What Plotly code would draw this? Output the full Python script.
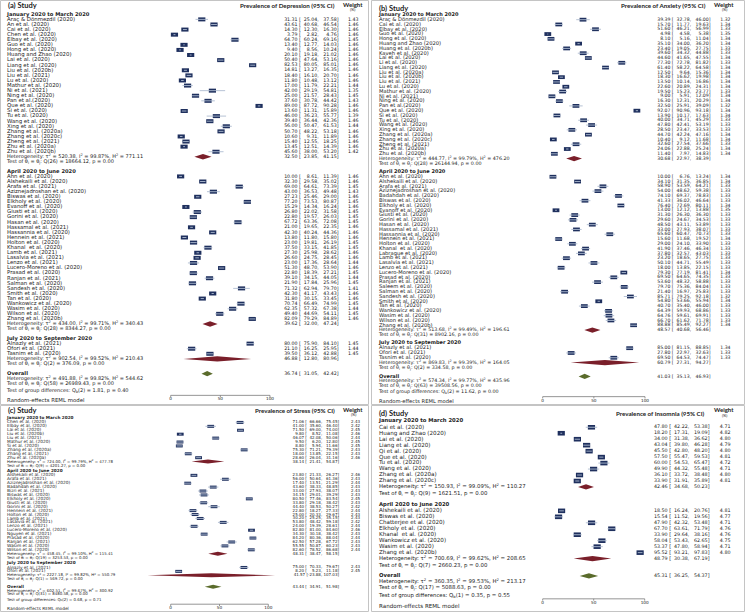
import plotly.graph_objects as go

W, H = 745, 612
FSP = "\u2007"  # figure space (digit width) for column alignment

periods = ["January 2020 to March 2020", "April 2020 to June 2020", "July 2020 to September 2020"]
axis_ticks = [0, 50, 100]

# ---------------- (a) Depression ----------------
dep1_names = ["Araç & Dönmezdil (2020)", "An et al. (2020)", "Cai et al. (2020)", "Chen et al. (2020)",
              "Elbay et al. (2020)", "Guo et al. (2020)", "Hong et al. (2020)", "Huang and Zhao (2020)",
              "Lai et al. (2020)", "Liang et al. (2020)", "Liu et al. (2020b)", "Liu et al. (2021)",
              "Lu et al. (2020)", "Mathur et al. (2020)", "Ni et al. (2021)", "Ning et al. (2020)",
              "Pan et al.(2020)", "Que et al. (2020)", "Si et al. (2020)", "Tu et al. (2020)",
              "Wang et al. (2020)", "Xing et al. (2020)", "Zhang et al. (2020a)", "Zhang et al. (2020c)",
              "Zheng et al. (2021)", "Zhu et al. (2020a)", "Zhu et al. (2020b)"]
dep1_est = [31.31, 43.61, 14.30, 3.79, 64.70, 13.40, 9.40, 20.10, 50.40, 82.53, 14.81, 18.40, 11.80, 17.00,
            42.00, 25.00, 37.60, 89.00, 13.60, 46.00, 39.40, 56.00, 50.70, 10.60, 15.40, 13.45, 45.60]
dep1_lo = [25.04, 40.68, 12.30, 2.82, 60.24, 12.77, 8.56, 19.18, 47.64, 80.05, 13.27, 16.10, 10.48, 11.79,
           29.19, 21.57, 30.78, 87.72, 11.31, 36.23, 36.44, 50.47, 48.22, 9.31, 12.55, 12.51, 38.00]
dep1_hi = [37.58, 46.54, 16.30, 4.76, 69.16, 14.03, 10.24, 21.02, 53.16, 85.01, 16.35, 20.70, 13.12, 22.21,
           54.81, 28.43, 44.42, 90.28, 15.89, 55.77, 42.36, 61.53, 53.18, 11.89, 18.25, 14.39, 53.20]
dep1_w = [1.43, 1.46, 1.46, 1.46, 1.45, 1.46, 1.46, 1.46, 1.46, 1.46, 1.46, 1.46, 1.46, 1.44,
          1.35, 1.45, 1.43, 1.46, 1.46, 1.39, 1.46, 1.44, 1.46, 1.46, 1.46, 1.46, 1.42]

dep2_names = ["Ahn et al. (2020)", "Alshekaili et al. (2020)", "Arafa et al. (2021)", "Aziznejadroshan et al. (2020)",
              "Biswas et al. (2020)", "Elkholy et al. (2020)", "Evanoff et al. (2020)", "Giusti et al. (2020)",
              "Gorini et al. (2020)", "Hasan et al. (2020)", "Hassamal et al. (2021)", "Hassannia et al. (2020)",
              "Hennein et al. (2021)", "Holton et al. (2020)", "Khanal  et al. (2020)", "Lamb et al. (2021)",
              "Lasalvia et al. (2021)", "Lenzo et al. (2021)", "Lucero-Moreno et al. (2020)", "Prasad et al. (2020)",
              "Ranjan et al. (2021)", "Salman et al. (2020)", "Sandesh et al. (2020)", "Smith et al. (2020)",
              "Tan et al. (2020)", "Wankowicz et al. (2020)", "Wasim et al. (2020)", "Wilson et al. (2020)",
              "Zhang et al. (2020b)"]
dep2_est = [10.00, 32.30, 69.00, 43.00, 27.23, 77.20, 15.29, 26.80, 22.80, 67.72, 21.00, 42.30, 13.80, 23.00,
            37.50, 27.30, 26.60, 23.00, 51.30, 22.80, 39.10, 21.90, 71.32, 42.30, 31.80, 70.74, 62.35, 49.40, 82.09]
dep2_lo = [8.61, 29.58, 64.61, 36.53, 25.46, 73.53, 14.34, 22.02, 19.57, 63.36, 19.65, 40.24, 11.80, 19.81,
           33.15, 25.98, 24.75, 17.36, 48.70, 18.39, 34.15, 17.84, 62.94, 41.17, 30.15, 66.49, 57.32, 44.69, 79.29]
dep2_hi = [11.39, 35.02, 73.39, 49.48, 29.00, 80.87, 16.24, 31.58, 26.03, 72.08, 22.35, 44.36, 15.80, 26.19,
           41.85, 28.62, 28.45, 28.64, 53.90, 27.21, 44.05, 25.96, 79.70, 43.43, 33.45, 74.99, 67.38, 54.11, 84.89]
dep2_w = [1.46, 1.46, 1.45, 1.43, 1.46, 1.45, 1.46, 1.45, 1.45, 1.45, 1.46, 1.46, 1.46, 1.45,
          1.45, 1.46, 1.46, 1.44, 1.46, 1.45, 1.44, 1.45, 1.41, 1.46, 1.46, 1.45, 1.44, 1.45, 1.46]

dep3_names = ["Alnazly et al. (2021)", "Ofori et al. (2021)", "Tasnim et al. (2020)"]
dep3_est = [80.00, 21.10, 39.50]
dep3_lo = [75.90, 16.25, 36.12]
dep3_hi = [84.10, 25.95, 42.88]
dep3_w = [1.45, 1.44, 1.45]

dep_sub_est = [32.50, 39.62, 46.88]
dep_sub_lo = [23.85, 32.00, 12.80]
dep_sub_hi = [41.15, 47.24, 80.96]
dep_sub_tau2 = [520.38, 434.00, 902.54]
dep_sub_i2 = [99.87, 99.71, 99.52]
dep_sub_h2 = [771.11, 340.43, 210.43]
dep_sub_df = [26, 28, 2]
dep_sub_q = [18664.12, 8344.27, 376.09]
dep_sub_p = [0.00, 0.00, 0.00]
dep_overall = [36.74, 31.05, 42.42]
dep_overall_het = [491.88, 99.82, 544.62]
dep_overall_q = [58, 26989.43, 0.00]
dep_groupdiff = [2, 1.81, 0.40]

# ---------------- (b) Anxiety ----------------
anx1_names = ["Araç & Dönmezdil (2020)", "Cai et al. (2020)", "Elbay et al. (2020)", "Guo et al. (2020)",
              "Hong et al. (2020)", "Huang and Zhao (2020)", "Huang et al. (2020b)", "Kaveh et al. (2020)",
              "Lai et al. (2020)", "Li et al. (2020)", "Liang et al. (2020)", "Liu et al. (2020a)",
              "Liu et al. (2020b)", "Liu et al. (2021)", "Lu et al. (2020)", "Mathur et al. (2020)",
              "Ni et al. (2021)", "Ning et al. (2020)", "Pan et al.(2020)", "Que et al. (2020)",
              "Si et al. (2020)", "Tu et al. (2020)", "Wang et al. (2020)", "Xing et al. (2020)",
              "Zhang et al. (2020a)", "Zhang et al. (2020c)", "Zheng et al. (2021)", "Zhu et al. (2020a)",
              "Zhu et al. (2020b)"]
anx1_est = [39.39, 15.70, 51.60, 4.98, 8.10, 35.10, 23.40, 39.60, 44.60, 77.30, 61.40, 12.50, 18.30, 13.50,
            22.60, 19.50, 9.00, 16.30, 32.50, 92.07, 13.90, 40.00, 47.80, 28.50, 44.70, 10.40, 32.60, 24.06, 11.40]
anx1_lo = [32.78, 11.77, 46.21, 4.58, 5.16, 34.00, 19.05, 34.32, 41.65, 72.78, 58.22, 9.64, 16.62, 10.14,
           20.89, 15.23, 5.91, 12.31, 25.91, 90.96, 10.17, 34.71, 42.41, 23.47, 42.24, 9.12, 27.54, 22.88, 7.97]
anx1_hi = [46.00, 19.63, 56.99, 5.38, 11.04, 36.20, 27.75, 44.88, 47.55, 81.82, 64.58, 15.36, 19.98, 16.86,
           24.31, 23.77, 12.09, 20.29, 39.09, 93.18, 17.63, 45.29, 53.19, 33.53, 47.16, 11.68, 37.66, 25.24, 14.83]
anx1_w = [1.32, 1.34, 1.33, 1.35, 1.34, 1.34, 1.33, 1.33, 1.34, 1.33, 1.34, 1.34, 1.34, 1.34,
          1.34, 1.33, 1.34, 1.34, 1.32, 1.34, 1.34, 1.33, 1.33, 1.33, 1.34, 1.34, 1.33, 1.34, 1.34]

anx2_names = ["Ahn et al. (2020)", "Alshekaili et al. (2020)", "Arafa et al. (2021)", "Aziznejadroshan et al. (2020)",
              "Badahdah et al. (2020)", "Biswas et al. (2020)", "Elkholy et al. (2020)", "Evanoff et al. (2020)",
              "Giusti et al. (2020)", "Gorini et al. (2020)", "Hasan et al. (2020)", "Hassamal et al. (2021)",
              "Hassannia et al. (2020)", "Hennein et al. (2021)", "Holton et al. (2020)", "Khanal  et al. (2020)",
              "Labrague et al. (2020)", "Lamb et al. (2021)", "Lasalvia et al. (2021)", "Lenzo et al. (2021)",
              "Lucero-Moreno et al. (2020)", "Prasad et al. (2020)", "Ranjan et al. (2021)", "Saleem et al. (2020)",
              "Salman et al. (2020)", "Sandesh et al. (2020)", "Smith et al. (2020)", "Tan et al. (2020)",
              "Wankowicz et al. (2020)", "Wasim et al. (2020)", "Wilson et al. (2020)", "Zhang et al. (2020b)"]
anx2_est = [10.00, 34.10, 58.90, 54.00, 74.10, 41.33, 76.40, 13.00, 31.30, 29.60, 48.50, 33.00, 65.60, 15.60,
            29.00, 41.90, 37.80, 23.20, 50.10, 18.00, 79.30, 69.50, 53.60, 79.70, 21.40, 85.71, 54.80, 40.70,
            64.39, 64.76, 66.70, 88.88]
anx2_lo = [6.76, 31.35, 53.59, 48.62, 69.37, 36.02, 72.69, 12.12, 26.30, 24.67, 43.11, 27.93, 60.47, 11.68,
           24.10, 37.46, 32.57, 18.65, 44.71, 13.85, 77.19, 64.65, 48.32, 75.36, 16.97, 79.25, 53.66, 35.40,
           59.93, 59.61, 61.62, 85.49]
anx2_hi = [13.24, 36.85, 64.21, 59.38, 78.83, 46.64, 80.11, 13.88, 36.30, 34.53, 53.89, 38.07, 70.73, 19.52,
           33.90, 46.34, 43.03, 27.75, 55.49, 22.15, 81.41, 74.35, 58.88, 84.04, 25.83, 92.18, 55.94, 46.00,
           68.86, 69.91, 71.78, 92.27]
anx2_w = [1.34, 1.34, 1.33, 1.33, 1.33, 1.33, 1.34, 1.35, 1.33, 1.33, 1.33, 1.33, 1.33, 1.34, 1.33, 1.33,
          1.33, 1.33, 1.33, 1.33, 1.34, 1.33, 1.33, 1.33, 1.33, 1.32, 1.34, 1.33, 1.33, 1.33, 1.33, 1.34]

anx3_names = ["Alnazly et al. (2021)", "Ofori et al. (2021)", "Tasnim et al. (2020)"]
anx3_est = [85.00, 27.80, 69.50]
anx3_lo = [81.15, 22.97, 64.53]
anx3_hi = [88.85, 32.63, 74.47]
anx3_w = [1.34, 1.33, 1.33]

anx_sub_est = [30.68, 48.57, 60.79]
anx_sub_lo = [22.97, 40.68, 27.31]
anx_sub_hi = [38.39, 56.46, 94.27]
anx_sub_tau2 = [444.77, 513.68, 869.83]
anx_sub_i2 = [99.79, 99.49, 99.39]
anx_sub_h2 = [476.20, 196.61, 164.05]
anx_sub_df = [28, 31, 2]
anx_sub_q = [26144.94, 8902.16, 334.58]
anx_sub_p = [0.00, 0.00, 0.00]
anx_overall = [41.03, 35.13, 46.93]
anx_overall_het = [574.34, 99.77, 435.96]
anx_overall_q = [63, 39508.56, 0.00]
anx_groupdiff = [2, 11.62, 0.00]

# ---------------- (c) Stress ----------------
str1_names = ["Chen et al. (2020)", "Elbay et al. (2020)", "Lai et al. (2020)", "Liu et al. (2020b)",
              "Liu et al. (2021)", "Mathur et al. (2020)", "Si et al. (2020)", "Zhang et al. (2020a)",
              "Zhang et al. (2021)", "Zhu et al. (2020a)"]
str1_est = [71.06, 41.00, 71.50, 9.80, 46.07, 9.50, 8.80, 75.30, 18.00, 28.60]
str1_lo = [66.66, 35.60, 69.00, 8.52, 42.08, 6.20, 5.94, 71.21, 13.85, 26.04]
str1_hi = [75.45, 46.40, 74.00, 11.08, 50.06, 12.80, 11.66, 79.39, 22.15, 31.16]
str1_w = [2.43, 2.42, 2.45, 2.46, 2.44, 2.45, 2.45, 2.43, 2.43, 2.46]

str2_names = ["Alshekaili et al. (2020)", "Arafa et al. (2021)", "Aziznejadroshan et al. (2020)",
              "Badahdah et al. (2020)", "Bizri et al. (2021)", "Biswas et al. (2020)", "Elkholy et al. (2020)",
              "Giusti et al. (2020)", "Gorini et al. (2020)", "Hennein et al. (2021)", "Holton et al. (2020)",
              "Lamb et al. (2021)", "Lasalvia et al. (2021)", "Lenzo et al. (2021)", "Lucero-Moreno et al. (2020)",
              "Nguyen et al. (2021)", "Prasad et al. (2020)", "Ranjan et al. (2021)", "Wasim et al. (2020)",
              "Wilson et al. (2020)"]
str2_est = [23.80, 56.00, 17.40, 43.60, 33.00, 34.15, 80.50, 33.80, 44.40, 22.80, 25.00, 30.20, 53.80, 24.00,
            82.80, 34.30, 84.20, 62.50, 55.55, 82.60]
str2_lo = [21.33, 50.64, 13.51, 38.33, 27.93, 29.01, 77.46, 29.18, 38.53, 18.27, 20.33, 25.25, 48.42, 19.39,
           81.00, 30.18, 80.36, 57.28, 50.87, 78.52]
str2_hi = [26.27, 61.36, 21.29, 48.85, 38.07, 39.29, 83.54, 38.42, 50.27, 27.33, 29.67, 35.15, 59.18, 28.61,
           84.60, 38.42, 88.04, 67.72, 60.23, 86.68]
str2_w = [2.46, 2.43, 2.44, 2.43, 2.43, 2.43, 2.45, 2.43, 2.42, 2.44, 2.43, 2.43, 2.42, 2.44, 2.46, 2.43,
          2.44, 2.43, 2.43, 2.44]

str3_names = ["Alnazly et al. (2021)", "Ofori et al. (2021)"]
str3_est = [75.00, 8.20]
str3_lo = [70.33, 5.23]
str3_hi = [79.67, 11.18]
str3_w = [2.43, 2.45]

str_sub_est = [38.14, 48.31, 41.57]
str_sub_lo = [21.41, 38.47, -23.88]
str_sub_hi = [54.87, 58.15, 107.03]
str_sub_tau2 = [724.00, 458.45, 2227.18]
str_sub_i2 = [99.79, 99.10, 99.82]
str_sub_h2 = [477.78, 115.41, 550.79]
str_sub_df = [9, 19, 1]
str_sub_q = [4201.27, 3253.53, 569.72]
str_sub_p = [0.00, 0.00, 0.00]
str_overall = [43.44, 34.91, 51.98]
str_overall_het = [602.51, 99.67, 300.92]
str_overall_q = [31, 8480.58, 0.00]
str_groupdiff = [2, 0.68, 0.71]

# ---------------- (d) Insomnia ----------------
ins1_names = ["Cai et al. (2020)", "Huang and Zhao (2020)", "Lai et al. (2020)", "Liang et al. (2020)",
              "Qi et al. (2020)", "Que et al. (2020)", "Tu et al. (2020)", "Wang et al. (2020)",
              "Zhang et al. (2020a)", "Zhang et al. (2020c)"]
ins1_est = [47.80, 18.20, 34.00, 43.04, 45.50, 57.50, 60.00, 49.90, 36.10, 33.90]
ins1_lo = [42.22, 17.31, 31.38, 39.80, 42.80, 55.47, 54.53, 44.32, 33.72, 31.91]
ins1_hi = [53.38, 19.09, 36.62, 46.28, 48.20, 59.53, 65.47, 55.48, 38.48, 35.89]
ins1_w = [4.71, 4.82, 4.80, 4.79, 4.80, 4.81, 4.72, 4.71, 4.80, 4.81]

ins2_names = ["Alshekaili et al. (2020)", "Biswas et al. (2020)", "Chatterjee et al. (2020)", "Elkholy et al. (2020)",
              "Khanal  et al. (2020)", "Wankowicz et al. (2020)", "Wasim et al. (2020)", "Zhang et al. (2020b)"]
ins2_est = [18.50, 15.54, 47.90, 67.70, 33.90, 58.04, 53.37, 95.52]
ins2_lo = [16.24, 11.52, 42.32, 63.61, 29.64, 53.43, 47.80, 93.21]
ins2_hi = [20.76, 19.56, 53.48, 71.79, 38.16, 62.65, 58.94, 97.83]
ins2_w = [4.81, 4.77, 4.71, 4.76, 4.76, 4.75, 4.71, 4.80]

ins_sub_est = [42.46, 48.79]
ins_sub_lo = [34.68, 30.38]
ins_sub_hi = [50.23, 67.19]
ins_sub_tau2 = [150.93, 700.69]
ins_sub_i2 = [99.09, 99.62]
ins_sub_h2 = [110.27, 208.65]
ins_sub_df = [9, 7]
ins_sub_q = [1621.51, 2660.23]
ins_sub_p = [0.00, 0.00]
ins_overall = [45.31, 36.25, 54.37]
ins_overall_het = [360.35, 99.53, 213.17]
ins_overall_q = [17, 5088.63, 0.00]
ins_groupdiff = [1, 0.35, 0.55]

# ---------------- styles ----------------
BOX_COL = "#1f305e"
CI_COL = "#aebbd0"
SUB_COL = "#7a1f2a"
ALL_COL = "#5a6b2b"
TXT = "#222222"
FONT = "DejaVu Sans"
HFONT = "Lato"


def ci_text(e, l, h):
    return (f"{e:.2f}".rjust(6, FSP) + " [" + f"{l:.2f}".rjust(6, FSP) + ", "
            + f"{h:.2f}".rjust(6, FSP) + "]")


panels = [
    dict(title="(a) Study", measure="Prevalence of Depression (95% CI)",
         groups=[(dep1_names, dep1_est, dep1_lo, dep1_hi, dep1_w),
                 (dep2_names, dep2_est, dep2_lo, dep2_hi, dep2_w),
                 (dep3_names, dep3_est, dep3_lo, dep3_hi, dep3_w)],
         sub=(dep_sub_est, dep_sub_lo, dep_sub_hi, dep_sub_tau2, dep_sub_i2, dep_sub_h2, dep_sub_df, dep_sub_q, dep_sub_p),
         overall=dep_overall, overall_het=dep_overall_het, overall_q=dep_overall_q, grp=dep_groupdiff,
         px=(0, 369), py=(0, 405), zero=170.7, hundred=270.0,
         s=5.09, y_first=14.3, hdr=1.0, het=1.0, test=1.0, gap=1.85, ogap=1.9, grpf=1.3, axis_dy=4.9, rand_dy=5.7,
         name_x=7, eff_x=338.5, w_x=358.5, fs_name=5.4, fs_stat=5.0, fs_num=4.7, fs_head=5.2,
         box_w=7.2, box_h=4.0, dia_h=2.7, title_y=5.5, meas_x=336.5, meas_y=6.0, wt_x=352.5, wt_y=4.3),
    dict(title="(b) Study", measure="Prevalence of Anxiety (95% CI)",
         groups=[(anx1_names, anx1_est, anx1_lo, anx1_hi, anx1_w),
                 (anx2_names, anx2_est, anx2_lo, anx2_hi, anx2_w),
                 (anx3_names, anx3_est, anx3_lo, anx3_hi, anx3_w)],
         sub=(anx_sub_est, anx_sub_lo, anx_sub_hi, anx_sub_tau2, anx_sub_i2, anx_sub_h2, anx_sub_df, anx_sub_q, anx_sub_p),
         overall=anx_overall, overall_het=anx_overall_het, overall_q=anx_overall_q, grp=anx_groupdiff,
         px=(371, 745), py=(0, 405), zero=542.7, hundred=645.0,
         s=4.79, y_first=14.7, hdr=1.04, het=1.0, test=1.0, gap=1.75, ogap=1.9, grpf=1.3, axis_dy=4.4, rand_dy=5.4,
         name_x=379, eff_x=710.5, w_x=730.5, fs_name=5.2, fs_stat=4.8, fs_num=4.6, fs_head=5.0,
         box_w=6.8, box_h=3.8, dia_h=2.6, title_y=8.5, meas_x=707.5, meas_y=6.0, wt_x=724, wt_y=4.3),
    dict(title="(c) Study", measure="Prevalence of Stress (95% CI)",
         groups=[(str1_names, str1_est, str1_lo, str1_hi, str1_w),
                 (str2_names, str2_est, str2_lo, str2_hi, str2_w),
                 (str3_names, str3_est, str3_lo, str3_hi, str3_w)],
         sub=(str_sub_est, str_sub_lo, str_sub_hi, str_sub_tau2, str_sub_i2, str_sub_h2, str_sub_df, str_sub_q, str_sub_p),
         overall=str_overall, overall_het=str_overall_het, overall_q=str_overall_q, grp=str_groupdiff,
         px=(0, 369), py=(405, 612), zero=170.7, hundred=268.3,
         s=3.92, y_first=418.3, hdr=1.05, het=1.0, test=1.0, gap=1.45, ogap=1.9, grpf=1.3, axis_dy=4.6, rand_dy=5.0,
         name_x=7, eff_x=339, w_x=360, fs_name=4.3, fs_stat=3.9, fs_num=4.0, fs_head=4.2,
         box_w=6.8, box_h=3.0, dia_h=2.0, title_y=410.3, meas_x=336.5, meas_y=410.5, wt_x=353, wt_y=409.3),
    dict(title="(d) Study", measure="Prevalence of Insomnia (95% CI)",
         groups=[(ins1_names, ins1_est, ins1_lo, ins1_hi, ins1_w),
                 (ins2_names, ins2_est, ins2_lo, ins2_hi, ins2_w)],
         sub=(ins_sub_est, ins_sub_lo, ins_sub_hi, ins_sub_tau2, ins_sub_i2, ins_sub_h2, ins_sub_df, ins_sub_q, ins_sub_p),
         overall=ins_overall, overall_het=ins_overall_het, overall_q=ins_overall_q, grp=ins_groupdiff,
         px=(371, 745), py=(405, 612), zero=542.7, hundred=644.7,
         s=5.97, y_first=420.7, hdr=1.1, het=1.0, test=1.1, gap=1.8, ogap=1.8, grpf=1.27, axis_dy=3.4, rand_dy=8.0,
         name_x=379, eff_x=709.5, w_x=730.5, fs_name=5.6, fs_stat=5.4, fs_num=4.8, fs_head=5.3,
         box_w=7.2, box_h=4.6, dia_h=2.6, title_y=413.3, meas_x=707, meas_y=413.0, wt_x=724, wt_y=410.0),
]

fig = go.Figure()
layout_axes = {}
annotations = []
shapes = []


def het_text(t, i, h):
    return f"Heterogeneity: τ<sup>2</sup> = {t:.2f}, I<sup>2</sup> = {i:.2f}%, H<sup>2</sup> = {h:.2f}"


def test_text(df, q, p):
    return f"Test of θ<sub>i</sub> = θ<sub>j</sub>: Q({df}) = {q:.2f}, p = {p:.2f}"


for pi, cfg in enumerate(panels):
    ax = "" if pi == 0 else str(pi + 1)
    xref, yref = "x" + ax, "y" + ax
    k = (cfg["hundred"] - cfg["zero"]) / 100.0
    px0, px1 = cfg["px"]
    py0, py1 = cfg["py"]

    def X(px, _z=cfg["zero"], _k=k):
        return (px - _z) / _k

    layout_axes["xaxis" + ax] = dict(domain=[px0 / W, px1 / W], range=[X(px0), X(px1)], visible=False,
                                     fixedrange=True, anchor=yref)
    layout_axes["yaxis" + ax] = dict(domain=[1 - py1 / H, 1 - py0 / H], range=[py1, py0], visible=False,
                                     fixedrange=True, anchor=xref)

    s = cfg["s"]
    nm_y, nm_t, nm_s = [], [], []
    ef_y, ef_t, ef_s = [], [], []
    wt_y, wt_t = [], []
    st_y, st_e, st_l, st_h = [], [], [], []
    diamonds = []

    y = cfg["y_first"]
    sub_est, sub_lo, sub_hi, sub_t, sub_i, sub_h, sub_df, sub_q, sub_p = cfg["sub"]
    ng = len(cfg["groups"])
    for gi, (names, est, lo, hi, w) in enumerate(cfg["groups"]):
        nm_y.append(y); nm_t.append(f"<b>{periods[gi]}</b>"); nm_s.append(cfg["fs_head"])
        y += cfg["hdr"] * s
        for i in range(len(names)):
            yy = y + i * s
            nm_y.append(yy); nm_t.append(names[i]); nm_s.append(cfg["fs_name"])
            ef_y.append(yy); ef_t.append(ci_text(est[i], lo[i], hi[i])); ef_s.append(cfg["fs_num"])
            wt_y.append(yy); wt_t.append(f"{w[i]:.2f}")
            st_y.append(yy); st_e.append(est[i]); st_l.append(lo[i]); st_h.append(hi[i])
        y_last = y + (len(names) - 1) * s
        y_het = y_last + cfg["het"] * s
        y_test = y_het + cfg["test"] * s
        nm_y.append(y_het); nm_t.append(het_text(sub_t[gi], sub_i[gi], sub_h[gi])); nm_s.append(cfg["fs_stat"])
        nm_y.append(y_test); nm_t.append(test_text(sub_df[gi], sub_q[gi], sub_p[gi])); nm_s.append(cfg["fs_stat"])
        ef_y.append(y_het); ef_t.append(ci_text(sub_est[gi], sub_lo[gi], sub_hi[gi])); ef_s.append(cfg["fs_num"])
        diamonds.append((sub_est[gi], sub_lo[gi], sub_hi[gi], y_het, SUB_COL))
        y = y_test + (cfg["gap"] if gi < ng - 1 else cfg["ogap"]) * s

    # overall
    oe, ol, oh = cfg["overall"]
    y_over = y
    y_ohet = y_over + s
    y_otest = y_ohet + s
    y_grp = y_otest + cfg["grpf"] * s
    y_axis = y_grp + cfg["axis_dy"]
    y_rand = y_axis + cfg["rand_dy"]
    nm_y += [y_over, y_ohet, y_otest, y_grp]
    nm_t += ["<b>Overall</b>", het_text(*cfg["overall_het"]), test_text(*cfg["overall_q"]),
             f"Test of group differences: Q<sub>b</sub>({cfg['grp'][0]}) = {cfg['grp'][1]:.2f}, p = {cfg['grp'][2]:.2f}"]
    nm_s += [cfg["fs_head"], cfg["fs_stat"], cfg["fs_stat"], cfg["fs_stat"]]
    ef_y.append(y_over); ef_t.append(ci_text(oe, ol, oh)); ef_s.append(cfg["fs_num"])
    diamonds.append((oe, ol, oh, y_over, ALL_COL))

    # confidence intervals
    fig.add_trace(go.Scatter(
        x=st_e, y=st_y, mode="markers", marker=dict(size=1, opacity=0),
        error_x=dict(type="data", symmetric=False,
                     array=[h - e for e, h in zip(st_e, st_h)],
                     arrayminus=[e - l for e, l in zip(st_e, st_l)],
                     color=CI_COL, thickness=0.9, width=0),
        xaxis=xref, yaxis=yref, hoverinfo="skip", showlegend=False))
    # study boxes
    bw = cfg["box_w"] / k
    fig.add_trace(go.Bar(
        x=[bw] * len(st_e), base=[e - bw / 2 for e in st_e], y=st_y, orientation="h",
        width=cfg["box_h"], marker=dict(color=BOX_COL, line=dict(width=0)),
        xaxis=xref, yaxis=yref, hoverinfo="skip", showlegend=False))
    # diamonds
    for (de, dl, dh, dy, col) in diamonds:
        hh = cfg["dia_h"]
        fig.add_trace(go.Scatter(
            x=[dl, de, dh, de, dl], y=[dy, dy - hh, dy, dy + hh, dy], mode="lines",
            fill="toself", fillcolor=col, line=dict(width=0, color=col),
            xaxis=xref, yaxis=yref, hoverinfo="skip", showlegend=False))
    # axis line and ticks
    ax_x, ax_y = [axis_ticks[0], axis_ticks[-1], None], [y_axis, y_axis, None]
    for t in axis_ticks:
        ax_x += [t, t, None]
        ax_y += [y_axis, y_axis + 1.8, None]
    fig.add_trace(go.Scatter(x=ax_x, y=ax_y, mode="lines", line=dict(color="#7a7a7a", width=0.8),
                             xaxis=xref, yaxis=yref, hoverinfo="skip", showlegend=False))
    fig.add_trace(go.Scatter(x=axis_ticks, y=[y_axis + 3.9] * len(axis_ticks), mode="text",
                             text=[str(t) for t in axis_ticks], textposition="middle center",
                             textfont=dict(family=FONT, size=4.2, color=TXT),
                             xaxis=xref, yaxis=yref, hoverinfo="skip", showlegend=False, cliponaxis=False))
    nm_y.append(y_rand); nm_t.append("Random-effects REML model"); nm_s.append(cfg["fs_name"])

    # text columns
    fig.add_trace(go.Scatter(x=[X(cfg["name_x"])] * len(nm_y), y=nm_y, mode="text", text=nm_t,
                             textposition="middle right",
                             textfont=dict(family=FONT, size=nm_s, color=TXT),
                             xaxis=xref, yaxis=yref, hoverinfo="skip", showlegend=False, cliponaxis=False))
    fig.add_trace(go.Scatter(x=[X(cfg["eff_x"])] * len(ef_y), y=ef_y, mode="text", text=ef_t,
                             textposition="middle left",
                             textfont=dict(family=FONT, size=ef_s, color=TXT),
                             xaxis=xref, yaxis=yref, hoverinfo="skip", showlegend=False, cliponaxis=False))
    fig.add_trace(go.Scatter(x=[X(cfg["w_x"])] * len(wt_y), y=wt_y, mode="text", text=wt_t,
                             textposition="middle left",
                             textfont=dict(family=FONT, size=cfg["fs_num"], color=TXT),
                             xaxis=xref, yaxis=yref, hoverinfo="skip", showlegend=False, cliponaxis=False))

    # headers
    annotations.append(dict(x=(px0 + 6) / W, y=1 - cfg["title_y"] / H, xref="paper", yref="paper",
                            text=f"<b>{cfg['title']}</b>", showarrow=False, xanchor="left", yanchor="middle",
                            font=dict(family=HFONT, size=7.5, color=TXT)))
    annotations.append(dict(x=cfg["meas_x"] / W, y=1 - cfg["meas_y"] / H, xref="paper", yref="paper",
                            text=f"<b>{cfg['measure']}</b>", showarrow=False, xanchor="right", yanchor="middle",
                            font=dict(family=HFONT, size=6.2, color=TXT)))
    annotations.append(dict(x=cfg["wt_x"] / W, y=1 - cfg["wt_y"] / H, xref="paper", yref="paper",
                            text="<b>Weight</b>", showarrow=False, xanchor="center", yanchor="middle",
                            font=dict(family=HFONT, size=6.0, color=TXT)))
    annotations.append(dict(x=cfg["wt_x"] / W, y=1 - (cfg["wt_y"] + 5.0) / H, xref="paper", yref="paper",
                            text="(%)", showarrow=False, xanchor="center", yanchor="middle",
                            font=dict(family=HFONT, size=4.0, color=TXT)))
    # panel frame
    shapes.append(dict(type="rect", xref="paper", yref="paper",
                       x0=(px0 + 0.5) / W, x1=(px1 - 0.5) / W, y0=1 - (py1 - 0.5) / H, y1=1 - (py0 + 0.5) / H,
                       line=dict(color="#c4c4c4", width=1), fillcolor="rgba(0,0,0,0)", layer="below"))

fig.update_layout(
    width=W, height=H, margin=dict(l=0, r=0, t=0, b=0),
    paper_bgcolor="white", plot_bgcolor="rgba(0,0,0,0)",
    barmode="overlay", showlegend=False,
    annotations=annotations, shapes=shapes,
    **layout_axes,
)

fig.write_html("out.html", config={"displayModeBar": False},
               post_script="document.body.style.margin='0';document.body.style.padding='0';"
                           "document.body.style.overflow='hidden';")
